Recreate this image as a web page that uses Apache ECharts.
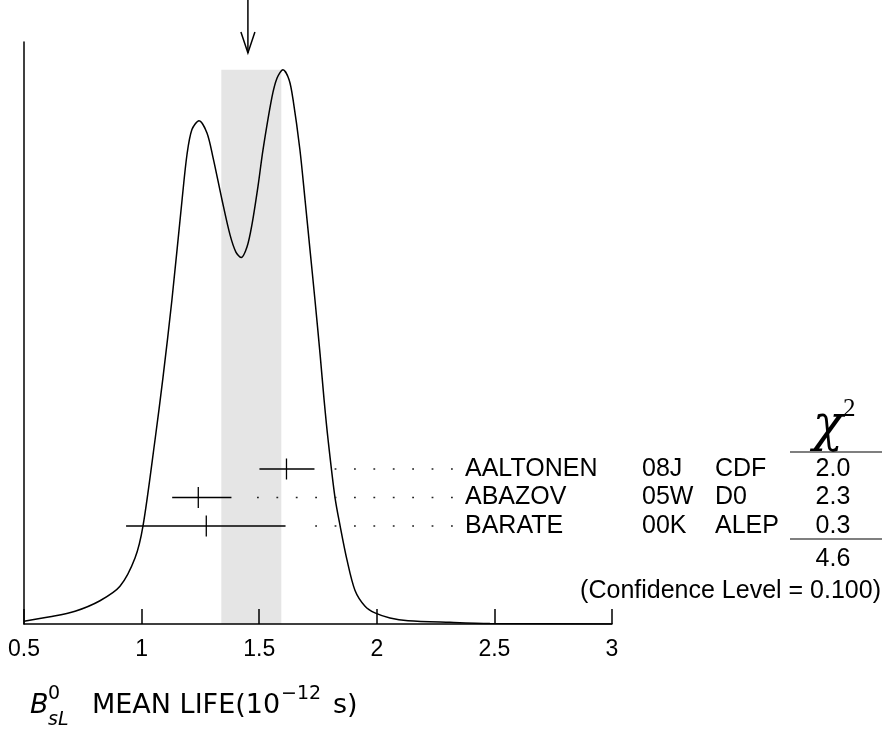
<!DOCTYPE html>
<html>
<head>
<meta charset="utf-8">
<script src="https://cdn.jsdelivr.net/npm/echarts@6/dist/echarts.min.js"></script>
<style>
  html, body { margin: 0; padding: 0; background: #fff; }
  #chart { width: 883px; height: 731px; }
</style>
</head>
<body>
<div id="chart"></div>
<script>
// x axis
var tickLabels = ['0.5', '1', '1.5', '2', '2.5', '3'];

// ideogram curve (height relative to the tallest peak)
var curveX = [0.500, 0.611, 0.717, 0.823, 0.908, 0.972, 1.006, 1.057, 1.091,
  1.129, 1.172, 1.193, 1.214, 1.244, 1.278, 1.304, 1.342, 1.376, 1.401,
  1.423, 1.448, 1.469, 1.495, 1.516, 1.554, 1.576, 1.601, 1.627, 1.644,
  1.673, 1.695, 1.716, 1.737, 1.759, 1.776, 1.793, 1.822, 1.844, 1.873,
  1.907, 1.950, 1.992, 2.056, 2.133, 2.311, 2.481, 3.000];
var curveY = [0.005, 0.013, 0.023, 0.042, 0.068, 0.119, 0.177, 0.332, 0.445,
  0.585, 0.765, 0.847, 0.892, 0.908, 0.886, 0.841, 0.765, 0.702, 0.671,
  0.661, 0.680, 0.720, 0.790, 0.855, 0.950, 0.985, 1.000, 0.982, 0.946,
  0.856, 0.765, 0.675, 0.585, 0.486, 0.404, 0.332, 0.229, 0.177, 0.116,
  0.061, 0.032, 0.020, 0.011, 0.006, 0.003, 0.001, 0.000];

// measurements
var names = ['AALTONEN', 'ABAZOV', 'BARATE'];
var refs = ['08J', '05W', '00K'];
var expts = ['CDF', 'D0', 'ALEP'];
var values = [1.616, 1.241, 1.275];
var errLow = [0.115, 0.111, 0.341];
var errHigh = [0.119, 0.141, 0.337];
var chi2 = ['2.0', '2.3', '0.3'];
var chi2Total = '4.6';
var confLevel = '0.100';

// weighted average and its error band
var meanValue = 1.452;
var bandRange = [1.339, 1.594];

// layout
var ROW_TOP = 469, ROW_STEP = 28.5;
var DOT_END = 451, DOT_STEP = 19.4;
var COL_NAME = 465, COL_REF = 642, COL_EXP = 715, COL_CHI = 833;
var TABLE_FONT = '25px "Liberation Sans", Arial, sans-serif';
var TITLE_FONT = '"DejaVu Sans", sans-serif';

var chart = echarts.init(document.getElementById('chart'));

function txt(text, x, y, font, align, valign) {
  return {
    type: 'text', x: x, y: y, silent: true,
    style: { text: text, font: font, fill: '#000', textAlign: align || 'left',
      textVerticalAlign: valign || 'middle', align: align || 'left', verticalAlign: valign || 'middle' }
  };
}

function renderRow(params, api) {
  var i = params.dataIndex;
  var y = ROW_TOP + i * ROW_STEP;
  var xc = api.coord([api.value(1), 0])[0];
  var xl = api.coord([api.value(2), 0])[0];
  var xr = api.coord([api.value(3), 0])[0];
  var n = Math.floor((DOT_END - (xr + 15)) / DOT_STEP);
  var dotStart = DOT_END - n * DOT_STEP;
  var line = { stroke: '#000', lineWidth: 1.3 };
  return {
    type: 'group',
    children: [
      { type: 'line', shape: { x1: xl, y1: y, x2: xr, y2: y }, style: line },
      { type: 'line', shape: { x1: xc, y1: y - 10.5, x2: xc, y2: y + 10.5 }, style: line },
      { type: 'line', shape: { x1: dotStart, y1: y, x2: DOT_END + 1.8, y2: y },
        style: { stroke: '#222', lineWidth: 1.6, lineDash: [1.8, DOT_STEP - 1.8] } },
      txt(names[i], COL_NAME, y, TABLE_FONT),
      txt(refs[i], COL_REF, y, TABLE_FONT),
      txt(expts[i], COL_EXP, y, TABLE_FONT),
      txt(chi2[i], COL_CHI, y, TABLE_FONT, 'center')
    ]
  };
}

var option = {
  backgroundColor: '#fff',
  animation: false,
  grid: { left: 24, right: 271, top: 42, bottom: 107 },
  xAxis: {
    type: 'value', min: 0.5, max: 3, interval: 0.5, z: 10,
    axisLine: { lineStyle: { color: '#000', width: 1.5 } },
    axisTick: { inside: true, length: 15, lineStyle: { color: '#000', width: 1.5 } },
    axisLabel: {
      margin: 14, color: '#000', fontSize: 23, fontFamily: '"Liberation Sans", Arial, sans-serif',
      formatter: function (v) { return tickLabels[Math.round((v - 0.5) / 0.5)]; }
    },
    splitLine: { show: false }
  },
  yAxis: {
    type: 'value', min: 0, max: 1.05, z: 10,
    axisLine: { show: true, lineStyle: { color: '#000', width: 1.5 } },
    axisTick: { show: false }, axisLabel: { show: false }, splitLine: { show: false }
  },
  series: [
    {
      type: 'custom', name: 'band', z: 1, clip: false,
      data: [[bandRange[0], bandRange[1], Math.max.apply(null, curveY)]],
      renderItem: function (params, api) {
        var p0 = api.coord([api.value(0), api.value(2)]);
        var p1 = api.coord([api.value(1), 0]);
        return { type: 'rect', shape: { x: p0[0], y: p0[1], width: p1[0] - p0[0], height: p1[1] - p0[1] },
          style: { fill: '#e5e5e5' } };
      }
    },
    {
      type: 'line', name: 'ideogram', z: 3,
      data: curveX.map(function (x, i) { return [x, curveY[i]]; }),
      smooth: 0.3, symbol: 'none',
      lineStyle: { color: '#000', width: 1.5 }
    },
    {
      type: 'custom', name: 'measurements', z: 4, clip: false,
      data: values.map(function (v, i) { return [i, v, v - errLow[i], v + errHigh[i]]; }),
      renderItem: renderRow
    },
    {
      type: 'custom', name: 'mean', z: 4, clip: false,
      data: [[meanValue]],
      renderItem: function (params, api) {
        var x = api.coord([api.value(0), 0])[0];
        var s = { stroke: '#000', lineWidth: 1.5, fill: 'none' };
        return { type: 'group', children: [
          { type: 'line', shape: { x1: x, y1: 0, x2: x, y2: 53 }, style: s },
          { type: 'polyline', shape: { points: [[x - 7, 32], [x, 53], [x + 7, 32]] }, style: s }
        ] };
      }
    }
  ],
  graphic: [
    txt('\u03C7', 843, 427, 'italic 50px "DejaVu Serif", serif', 'right'),
    txt('2', 843, 409, '25px "Liberation Serif", serif', 'left'),
    { type: 'line', silent: true, shape: { x1: 790, y1: 452, x2: 882, y2: 452 }, style: { stroke: '#000', lineWidth: 1.2 } },
    { type: 'line', silent: true, shape: { x1: 790, y1: 539, x2: 882, y2: 539 }, style: { stroke: '#000', lineWidth: 1.2 } },
    txt(chi2Total, COL_CHI, 559, TABLE_FONT, 'center'),
    txt('(Confidence Level = ' + confLevel + ')', 881, 591, TABLE_FONT, 'right'),
    // axis title: B^0_sL MEAN LIFE(10^-12 s)
    txt('B', 30, 706, 'italic 27px ' + TITLE_FONT),
    txt('0', 48, 694, '19px ' + TITLE_FONT),
    txt('sL', 48, 720, 'italic 19px ' + TITLE_FONT),
    txt('MEAN LIFE(10', 92, 706, '27px ' + TITLE_FONT),
    txt('\u221212', 281, 694, '19px ' + TITLE_FONT),
    txt('s)', 333, 706, '27px ' + TITLE_FONT)
  ]
};

chart.setOption(option);
</script>
</body>
</html>
